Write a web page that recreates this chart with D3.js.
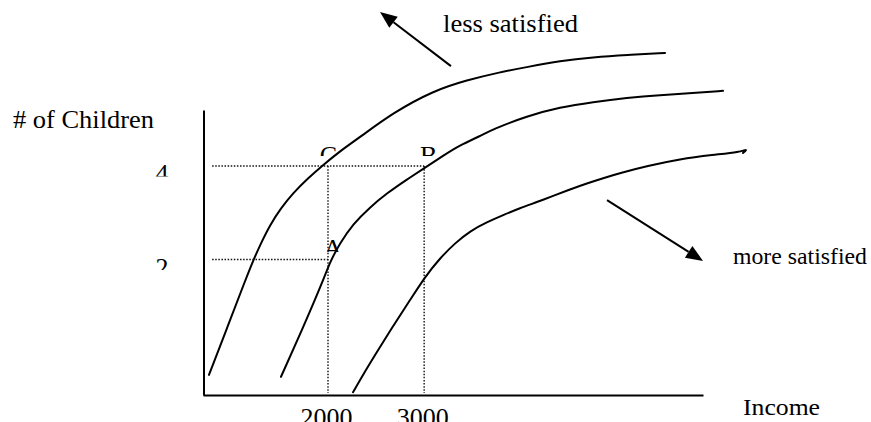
<!DOCTYPE html>
<html><head><meta charset="utf-8">
<script src="https://cdn.jsdelivr.net/npm/d3@7"></script>
<style>
html,body{margin:0;padding:0;background:#fff;overflow:hidden}
svg text{font-family:"Liberation Serif","Times New Roman",Tinos,"DejaVu Serif",serif !important;fill:#000}
</style>
</head><body><svg id="c" width="871" height="422"></svg>
<script>
// ---- data ----
const incomeTicks = [2000, 3000];
const incomeTickLabels = ["2000", "3000"];
const childTicks = [4, 2];
const childTickLabels = ["4", "2"];

// indifference curve 1 (upper-left, least satisfied)
const curve1Income   = [762, 950, 1137, 1220, 1303, 1397, 1511, 1636, 1792, 1948, 2125, 2333, 2676, 3092, 3446, 3789, 4070, 4413, 4756, 5110, 5505];
const curve1Children = [-0.47, 0.53, 1.54, 1.97, 2.35, 2.74, 3.10, 3.42, 3.74, 4.02, 4.32, 4.62, 5.14, 5.61, 5.84, 6.01, 6.12, 6.25, 6.33, 6.38, 6.42];
// indifference curve 2 (middle)
const curve2Income   = [1511, 1730, 1948, 2021, 2125, 2260, 2437, 2614, 2811, 3019, 3196, 3373, 3581, 3716, 4070, 4413, 4756, 5110, 5453, 5796, 6108];
const curve2Children = [-0.51, 0.49, 1.54, 1.95, 2.35, 2.76, 3.12, 3.42, 3.70, 3.98, 4.22, 4.45, 4.64, 4.79, 5.07, 5.26, 5.37, 5.46, 5.52, 5.56, 5.61];
// indifference curve 3 (lower-right, most satisfied)
const curve3Income   = [2260, 2406, 2541, 2697, 2853, 3009, 3165, 3321, 3477, 3654, 3820, 3997, 4174, 4340, 4517, 4694, 4860, 5037, 5318, 5661, 6004, 6285, 6368, 6316];
const curve3Children = [-0.84, -0.32, 0.13, 0.64, 1.13, 1.63, 2.03, 2.35, 2.61, 2.80, 2.95, 3.10, 3.23, 3.36, 3.50, 3.63, 3.74, 3.85, 4.00, 4.15, 4.24, 4.30, 4.37, 4.28];

const pointNames    = ["C", "B", "A"];
const pointIncome   = [2000, 3000, 2000];
const pointChildren = [4, 4, 2];

const axisTitles = ["# of Children", "Income"];
const directionLabels = ["less satisfied", "more satisfied"];
// arrows: [tail, tip] in data units
const arrowLessIncome   = [3279, 2541];
const arrowLessChildren = [6.14, 7.30];
const arrowMoreIncome   = [4902, 5900];
const arrowMoreChildren = [3.27, 1.97];
const guideStartIncome = 795;

// ---- drawing ----
const FONT = '"Liberation Serif","Times New Roman",Tinos,"DejaVu Serif",serif';
const svg = d3.select("#c");
const x = d3.scaleLinear().domain([700, 5900]).range([203, 703]);
const y = d3.scaleLinear().domain([-0.9, 5.2]).range([395, 110]);

// axes (lines only)
svg.append("g").attr("transform", `translate(0,${y(-0.9)})`)
  .call(d3.axisBottom(x).tickValues([]).tickSizeOuter(0));
svg.append("g").attr("transform", `translate(${x(700) + 0.5},0)`)
  .call(d3.axisLeft(y).tickValues([]).tickSizeOuter(0));
svg.selectAll(".domain").attr("stroke", "#000").attr("stroke-width", 2);

// dotted guide lines
const dotted = svg.append("g").attr("stroke", "#111").attr("stroke-width", 1.4)
  .attr("stroke-dasharray", "1.5 1.6").attr("fill", "none");
childTicks.forEach(c => {
  const xEnd = c === 4 ? incomeTicks[1] : incomeTicks[0];
  dotted.append("line").attr("x1", x(guideStartIncome)).attr("x2", x(xEnd))
    .attr("y1", y(c)).attr("y2", y(c));
});
incomeTicks.forEach(v => {
  dotted.append("line").attr("x1", x(v)).attr("x2", x(v))
    .attr("y1", y(4)).attr("y2", y(-0.9) - 2);
});

// curves
const line = d3.line().x(d => x(d[0])).y(d => y(d[1])).curve(d3.curveBasis);
[[curve1Income, curve1Children], [curve2Income, curve2Children], [curve3Income, curve3Children]]
  .forEach(([xs, ys]) => {
    svg.append("path").datum(xs.map((v, i) => [v, ys[i]]))
      .attr("d", line).attr("fill", "none").attr("stroke", "#000")
      .attr("stroke-width", 2).attr("stroke-linecap", "round").attr("stroke-linejoin", "round");
  });

// arrows
function arrow(xs, ys) {
  const x0 = x(xs[0]), y0 = y(ys[0]), x1 = x(xs[1]), y1 = y(ys[1]);
  const a = Math.atan2(y1 - y0, x1 - x0), L = 17, W = 7;
  const bx = x1 - L * Math.cos(a), by = y1 - L * Math.sin(a);
  svg.append("line").attr("x1", x0).attr("y1", y0).attr("x2", bx).attr("y2", by)
    .attr("stroke", "#000").attr("stroke-width", 2);
  svg.append("path").attr("d",
    `M${x1},${y1}L${bx + W * Math.sin(a)},${by - W * Math.cos(a)}L${bx - W * Math.sin(a)},${by + W * Math.cos(a)}Z`)
    .attr("fill", "#000");
}
arrow(arrowLessIncome, arrowLessChildren);
arrow(arrowMoreIncome, arrowMoreChildren);

// clipped labels (the original text boxes cut the glyphs off)
const defs = svg.append("defs");
let clipId = 0;
function clippedText(txt, cx, baseline, clipBottom, size) {
  const id = "clip" + (clipId++);
  defs.append("clipPath").attr("id", id).append("rect")
    .attr("x", cx - 40).attr("y", baseline - 40).attr("width", 80).attr("height", clipBottom - (baseline - 40));
  svg.append("g").attr("clip-path", `url(#${id})`).append("text")
    .attr("x", cx).attr("y", baseline).attr("text-anchor", "middle")
    .attr("font-family", FONT).attr("font-size", size).text(txt);
}
childTicks.forEach((c, i) => clippedText(childTickLabels[i], 162, y(c) + 16, y(c) + 10.5, 26));
incomeTicks.forEach((v, i) => clippedText(incomeTickLabels[i], x(v) - 1.5, 426, 430, 26));
pointNames.forEach((n, i) => {
  const px = x(pointIncome[i]), py = y(pointChildren[i]);
  const dx = n === "A" ? 5 : (n === "B" ? 4.5 : 0.5);
  const base = n === "A" ? py - 2.5 : py - 2;
  const clip = n === "A" ? py - 7.5 : py - 10;
  clippedText(n, px + dx, base, clip, 26);
});

// titles
function title(txt, tx, ty, size, len) {
  svg.append("text").attr("x", tx).attr("y", ty).attr("font-family", FONT).attr("font-size", size)
    .attr("textLength", len).attr("lengthAdjust", "spacingAndGlyphs").text(txt);
}
title(axisTitles[0], 13, 128, 26, 141);
title(axisTitles[1], 743, 415, 24, 77);
title(directionLabels[0], 443, 32, 25, 135);
title(directionLabels[1], 733, 264, 23, 134);
</script>
</body></html>
